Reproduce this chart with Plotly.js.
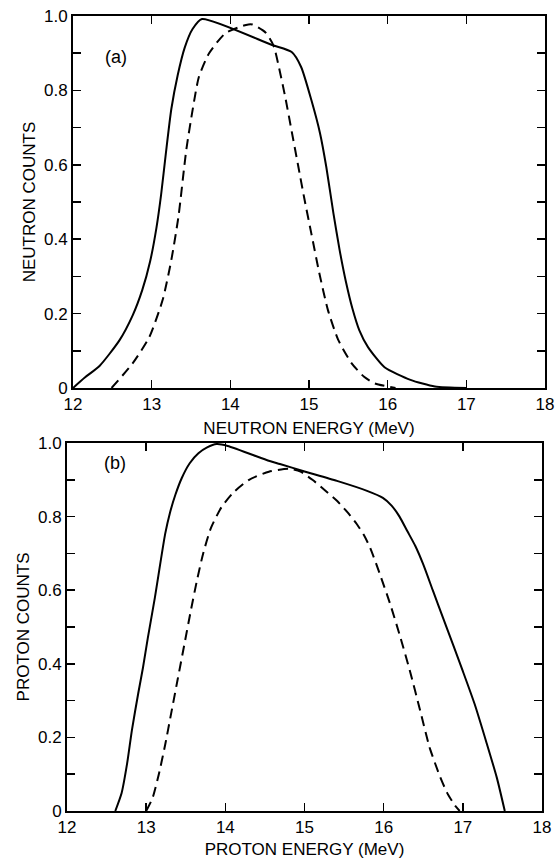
<!DOCTYPE html>
<html>
<head>
<meta charset="utf-8">
<script src="https://cdn.plot.ly/plotly-3.0.1.min.js"></script>
<style>html,body{margin:0;padding:0;background:#fff;}#chart{width:555px;height:859px;}</style>
</head>
<body>
<div id="chart"></div>
<script>
// Panel (a): neutron spectra
const neutronSolidE = [12.0,12.15,12.34,12.59,12.76,12.88,12.98,13.06,13.12,13.18,13.25,13.33,13.42,13.52,13.64,14.53,14.78,14.9,15.03,15.14,15.22,15.31,15.39,15.47,15.55,15.64,15.75,15.96,16.29,16.6,17.0];
const neutronSolidC = [0.0,0.028,0.06,0.128,0.196,0.263,0.34,0.43,0.52,0.63,0.75,0.84,0.915,0.965,0.992,0.922,0.903,0.863,0.774,0.685,0.594,0.47,0.37,0.285,0.215,0.155,0.11,0.056,0.022,0.004,0.0];
const neutronDashE = [12.49,12.76,12.97,13.14,13.25,13.34,13.44,13.52,13.6,13.73,13.94,14.2,14.28,14.45,14.55,14.62,14.7,14.78,14.86,14.94,15.03,15.13,15.24,15.37,15.54,15.7,15.84,16.1];
const neutronDashC = [0.0,0.067,0.137,0.237,0.344,0.46,0.64,0.747,0.836,0.9,0.954,0.976,0.977,0.955,0.92,0.86,0.78,0.69,0.6,0.51,0.415,0.31,0.21,0.13,0.067,0.03,0.012,0.0];
// Panel (b): proton spectra
const protonSolidE = [12.61,12.69,12.76,12.82,12.9,12.96,13.02,13.11,13.24,13.3,13.37,13.45,13.55,13.66,13.77,13.89,14.03,14.56,14.69,14.98,15.41,15.79,15.99,16.1,16.2,16.3,16.4,16.5,16.62,16.75,16.88,17.0,17.15,17.3,17.43,17.53];
const protonSolidC = [0.0,0.049,0.13,0.22,0.32,0.39,0.469,0.58,0.753,0.81,0.86,0.905,0.945,0.972,0.988,0.997,0.992,0.951,0.943,0.924,0.897,0.87,0.851,0.83,0.80,0.76,0.72,0.67,0.60,0.525,0.45,0.38,0.29,0.185,0.09,0.0];
const protonDashE = [13.0,13.08,13.16,13.24,13.32,13.4,13.48,13.56,13.64,13.72,13.82,13.95,14.1,14.3,14.55,14.8,14.95,15.1,15.25,15.41,15.55,15.66,15.75,15.83,15.95,16.08,16.2,16.33,16.46,16.58,16.7,16.8,16.9,16.96];
const protonDashC = [0.0,0.035,0.1,0.18,0.27,0.36,0.45,0.54,0.625,0.70,0.77,0.825,0.865,0.9,0.922,0.93,0.922,0.9,0.873,0.843,0.81,0.78,0.75,0.715,0.645,0.564,0.48,0.382,0.274,0.173,0.1,0.05,0.015,0.0];

const xTickVals = [12,13,14,15,16,17,18];
const xTickText = ['12','13','14','15','16','17','18'];
const yTickVals = [0,0.1,0.2,0.3,0.4,0.5,0.6,0.7,0.8,0.9,1.0];
const yTickText = ['0','','0.2','','0.4','','0.6','','0.8','','1.0'];

const FONT = 'Liberation Sans, Arial, sans-serif';
const solid = {color:'#000', width:2, shape:'spline', smoothing:0.6};
const dashed = {color:'#000', width:2, dash:'10px,6px', shape:'spline', smoothing:0.6};

const traces = [
  {x:neutronSolidE, y:neutronSolidC, mode:'lines', line:solid, xaxis:'x', yaxis:'y', hoverinfo:'skip'},
  {x:neutronDashE, y:neutronDashC, mode:'lines', line:dashed, xaxis:'x', yaxis:'y', hoverinfo:'skip'},
  {x:protonSolidE, y:protonSolidC, mode:'lines', line:solid, xaxis:'x2', yaxis:'y2', hoverinfo:'skip'},
  {x:protonDashE, y:protonDashC, mode:'lines', line:dashed, xaxis:'x2', yaxis:'y2', hoverinfo:'skip'}
];

function xAxis(domain, anchor, title){
  return {domain:domain, anchor:anchor, range:[12,18], tickmode:'array', tickvals:xTickVals, ticktext:xTickText,
    ticks:'inside', ticklen:8, tickwidth:1.5, tickcolor:'#000', showline:true, linecolor:'#000', linewidth:2,
    mirror:'ticks', showgrid:false, zeroline:false, ticklabeloverflow:'allow',
    tickfont:{family:FONT, size:17, color:'#000'},
    title:{text:title, font:{family:FONT, size:17, color:'#000'}, standoff:9}};
}
function yAxis(domain, anchor, title){
  return {domain:domain, anchor:anchor, range:[0,1], tickmode:'array', tickvals:yTickVals, ticktext:yTickText,
    ticks:'inside', ticklen:8, tickwidth:1.5, tickcolor:'#000', showline:true, linecolor:'#000', linewidth:2,
    mirror:'ticks', showgrid:false, zeroline:false, ticklabeloverflow:'allow',
    tickfont:{family:FONT, size:17, color:'#000'},
    title:{text:title, font:{family:FONT, size:17, color:'#000'}, standoff:4}};
}

const W = 555, H = 859;
const layout = {
  width:W, height:H, margin:{l:0,r:0,t:0,b:0}, showlegend:false,
  paper_bgcolor:'#fff', plot_bgcolor:'#fff',
  xaxis: xAxis([73/W, 545/W], 'y', 'NEUTRON ENERGY (MeV)'),
  yaxis: yAxis([(H-388)/H, (H-16)/H], 'x', 'NEUTRON COUNTS'),
  xaxis2: xAxis([67/W, 542/W], 'y2', 'PROTON ENERGY (MeV)'),
  yaxis2: yAxis([(H-811)/H, (H-443)/H], 'x2', 'PROTON COUNTS'),
  annotations:[
    {text:'(a)', xref:'paper', yref:'paper', x:103/W, y:(H-45)/H, showarrow:false, font:{family:FONT, size:18, color:'#000'}},
    {text:'(b)', xref:'paper', yref:'paper', x:102/W, y:(H-463)/H, showarrow:false, font:{family:FONT, size:18, color:'#000'}}
  ]
};
Plotly.newPlot('chart', traces, layout, {displayModeBar:false, staticPlot:true});
</script>
</body>
</html>
